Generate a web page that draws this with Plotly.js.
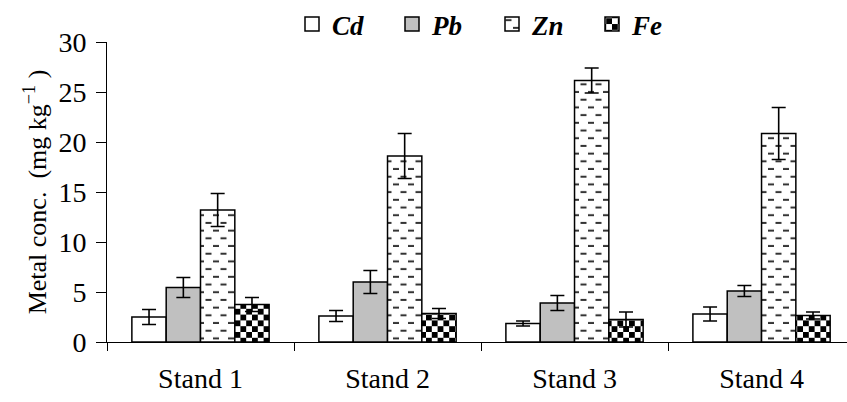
<!DOCTYPE html>
<html>
<head>
<meta charset="utf-8">
<script src="https://cdn.plot.ly/plotly-3.0.1.min.js"></script>
<style>html,body{margin:0;padding:0;background:#fff;}#chart{width:847px;height:402px;}</style>
</head>
<body>
<div id="chart"></div>
<script>
const categories = ['Stand 1', 'Stand 2', 'Stand 3', 'Stand 4'];
const seriesNames = ['Cd', 'Pb', 'Zn', 'Fe'];
const cdValues = [2.5, 2.6, 1.85, 2.8];
const cdErrors = [0.75, 0.55, 0.25, 0.7];
const pbValues = [5.45, 6.0, 3.9, 5.1];
const pbErrors = [1.0, 1.15, 0.75, 0.55];
const znValues = [13.2, 18.6, 26.15, 20.85];
const znErrors = [1.65, 2.25, 1.25, 2.6];
const feValues = [3.75, 2.85, 2.25, 2.65];
const feErrors = [0.7, 0.5, 0.75, 0.35];
const yTickValues = [0, 5, 10, 15, 20, 25, 30];

const FONT = "'Liberation Serif', 'Times New Roman', Times, serif";
const values = [cdValues, pbValues, znValues, feValues];
const errors = [cdErrors, pbErrors, znErrors, feErrors];
const fills = ['#ffffff', '#c0c0c0', '#ffffff', '#ffffff'];

const traces = seriesNames.map((name, i) => ({
  type: 'bar',
  name: name,
  x: categories,
  y: values[i],
  marker: { color: fills[i], line: { color: '#000', width: 1.5 } },
  error_y: { type: 'data', array: errors[i], visible: true, color: '#000', thickness: 1.6, width: 7 },
  hoverinfo: 'none'
}));

const layout = {
  width: 847, height: 402,
  margin: { l: 107, r: 0, t: 36, b: 60, pad: 0 },
  paper_bgcolor: '#fff', plot_bgcolor: '#fff',
  font: { family: FONT, color: '#000', size: 26 },
  barmode: 'group', bargap: 0.266, bargroupgap: 0,
  showlegend: true,
  legend: {
    orientation: 'h', x: 0.25, xanchor: 'left', y: 1.06, yanchor: 'middle',
    font: { family: FONT, size: 27, weight: 'bold', style: 'italic', color: '#000' },
    itemwidth: 30, entrywidth: 55, traceorder: 'normal', bgcolor: 'rgba(0,0,0,0)'
  },
  xaxis: {
    type: 'category', range: [-0.5, 3.457], showgrid: false, zeroline: false,
    showline: true, linecolor: '#000', linewidth: 1,
    ticks: 'outside', tickson: 'boundaries', ticklen: 8, tickcolor: '#000', tickwidth: 1,
    tickfont: { family: FONT, size: 28, color: '#000' }, ticklabelstandoff: 11
  },
  yaxis: {
    range: [0, 30], tickvals: yTickValues, ticktext: yTickValues.map(String),
    showgrid: false, zeroline: false, showline: true, linecolor: '#000', linewidth: 1,
    ticks: 'outside', ticklen: 10, tickcolor: '#000', tickwidth: 1,
    tickfont: { family: FONT, size: 28, color: '#000' }, ticklabelstandoff: 4,
    title: { text: 'Metal conc.  (mg kg<sup>\u22121</sup> )', font: { family: FONT, size: 26, color: '#000' }, standoff: 4 }
  }
};

const gd = document.getElementById('chart');
Plotly.newPlot(gd, traces, layout, { staticPlot: true, displayModeBar: false, responsive: false }).then(() => {
  const NS = 'http://www.w3.org/2000/svg';
  const svg = gd.querySelector('svg.main-svg');
  let defs = svg.querySelector('defs');
  if (!defs) { defs = document.createElementNS(NS, 'defs'); svg.insertBefore(defs, svg.firstChild); }
  function mk(tag, attrs, parent) {
    const el = document.createElementNS(NS, tag);
    for (const k in attrs) el.setAttribute(k, attrs[k]);
    parent.appendChild(el); return el;
  }
  // dashed pattern for Zn
  const pz = mk('pattern', { id: 'znpat', patternUnits: 'userSpaceOnUse', width: 15, height: 15.4 }, defs);
  mk('rect', { x: 0, y: 0, width: 15, height: 15.4, fill: '#fff' }, pz);
  mk('rect', { x: 1, y: 2.8, width: 6, height: 2, fill: '#333' }, pz);
  mk('rect', { x: 8.5, y: 10.5, width: 6, height: 2, fill: '#333' }, pz);
  // checkerboard for Fe
  const pf = mk('pattern', { id: 'fepat', patternUnits: 'userSpaceOnUse', width: 11.6, height: 11.6 }, defs);
  mk('rect', { x: 0, y: 0, width: 11.6, height: 11.6, fill: '#fff' }, pf);
  mk('rect', { x: 0, y: 0, width: 5.8, height: 5.8, fill: '#000' }, pf);
  mk('rect', { x: 5.8, y: 5.8, width: 5.8, height: 5.8, fill: '#000' }, pf);

  const patMap = { 2: 'url(#znpat)', 3: 'url(#fepat)' };
  const barTraces = gd.querySelectorAll('.barlayer .trace');
  barTraces.forEach((t, i) => {
    if (patMap[i]) t.querySelectorAll('.point path').forEach(p => { p.style.fill = patMap[i]; });
  });
  const legTraces = gd.querySelectorAll('.legend .traces');
  legTraces.forEach((t, i) => {
    t.querySelectorAll('.legendpoints path').forEach(p => {
      p.setAttribute('d', 'M7,7H-7V-7H7Z');
      if (patMap[i]) p.style.fill = patMap[i];
    });
  });
});
</script>
</body>
</html>
